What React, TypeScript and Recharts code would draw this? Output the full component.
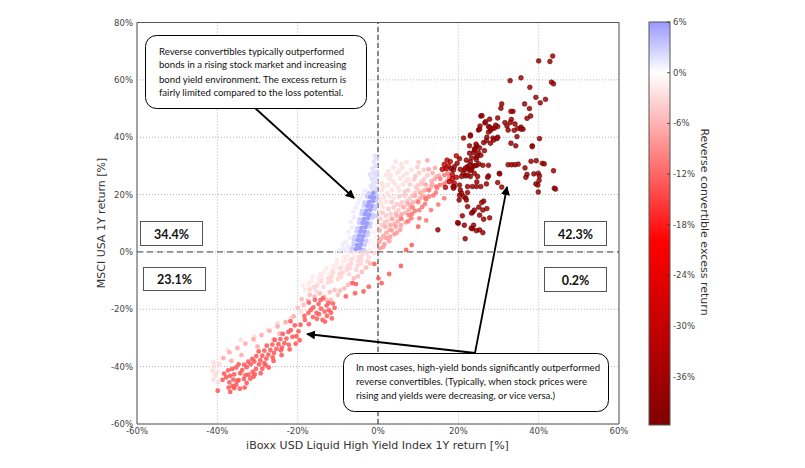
import React from 'react';
import { ScatterChart, Scatter, XAxis, YAxis, CartesianGrid, ReferenceLine, ReferenceArea } from 'recharts';

// ---------- axes / ticks ----------
const xTicks = [-60, -40, -20, 0, 20, 40, 60];
const yTicks = [-60, -40, -20, 0, 20, 40, 60, 80];
const cbTicks = [6, 0, -6, -12, -18, -24, -30, -36];
const CB_MAX = 6;
const CB_MIN = -41.7;

// ---------- data clusters: flat [x, y, x, y ...] in %, each with its excess return ----------
const tailPaleA = [-7.2,0.3, -6.1,-0.2, -5.2,0.4, -8.4,-1.8, -7.5,-1.1, -6,-1.9, -10.2,-2.7, -8.7,-3.3, -7.8,-2.6, -11.1,-4.8, -10.3,-4.1, -8.8,-4.9, -12.9,-5.7, -11.4,-6.3, -10.6,-5.6, -14.4,-7.8, -13.6,-7.1, -12.1,-7.9, -16.3,-8.7, -14.8,-9.3, -13.9,-8.6, -17.3,-10.8, -16.5,-10.1, -14.9,-10.9, -18.7,-11.7, -17.2,-12.2, -18.2,-13.3];
const tailPaleAEx = -1.8;
const tailPaleB = [-4.2,0.3, -2.8,-0.4, -2.1,0.4, -0.9,-0.3, -4.7,-1.8, -3.9,-1.1, -2.3,-1.9, -6.6,-2.7, -5,-3.2, -4.2,-2.7, -2.7,-3.3, -7.5,-4.8, -6.7,-4.1, -5.1,-4.9, -4.3,-4.1, -9.4,-5.7, -7.8,-6.2, -7,-5.7, -5.4,-6.3, -11.2,-7.2, -9.6,-7.7, -8.8,-7.2, -7.2,-7.8, -12.4,-9.3, -11.6,-8.6, -10,-9.4, -9.2,-8.6, -14.1,-10.2, -12.5,-10.7, -11.7,-10.3, -16,-12.3, -15.2,-11.8, -13.6,-12.2, -17,-13.2, -15.4,-13.7];
const tailPaleBEx = -3.5;
const nearZero = [-2,1, -1,2, -1.5,4, -0.5,5, -1,7, -2,6, -0.4,9, -2.2,3];
const nearZeroEx = -1;
const bluePale = [-8.5,1, -7.5,2, -8,3.5, -7,5, -7.3,7, -6.5,8.5, -6.8,10.5, -6,12, -6.2,14, -5.5,15.5, -5,17, -4.5,18.5, -9.5,0.5, -8.8,2.5, -7.6,0.4, -3.8,20, -3.2,21.5];
const bluePaleEx = 1.2;
const blueEdge = [-6.5,1.2, -3.5,0.6, -6.1,2.7, -3.3,2.4, -6,4.2, -2.9,3.9, -5.8,5.3, -2.7,5.9, -5.3,7.2, -2.5,6.9, -5.1,8.3, -2,8.9, -4.7,10.2, -1.9,10, -4.6,11.3, -1.4,11.9, -4.1,13.2, -1.3,13, -0.5,12.5, -4,14.3, -0.8,14.9, -3.5,16.2, -0.6,16, -3.3,17.3, -0.4,17.9, -2.7,19.2, -0.3,19.3, -2.3,20.4, -0.5,21];
const blueEdgeEx = 3;
const blueCore = [-5.5,1, -4.5,1.3, -5.2,2.4, -4.2,2.8, -5,4.1, -4,4.1, -4.7,5.6, -3.7,5.5, -4.4,7.1, -3.4,7.1, -4.1,8.4, -3.1,8.7, -3.8,10.1, -2.8,10, -3.5,11.4, -2.5,11.7, -3.2,13.1, -2.2,13, -2.9,14.4, -1.9,14.7, -2.6,16.1, -1.6,16, -2.2,17.4, -1.3,17.7, -1.9,19.1, -1,19, -1.2,20.5];
const blueCoreEx = 6;
const blueTop = [-1.5,22, -0.7,22.5, -1.2,24, -0.4,24.5, -1.6,25.5, -0.8,26, -1.1,27.5, -0.3,28, -1.4,29, -0.6,30, -1,31.5, -0.3,32.5, -1.8,23, -0.2,26.8, -2,27, -0.8,33.5];
const blueTopEx = 2;
const pinkPale = [1.2,15.6, 2.1,17.4, 0.7,16.9, 3.9,18.8, 2.8,19.5, 1.5,19, 5.3,21.3, 3.5,21.6, 2.3,20.5, 0.9,21.4, 6.2,23.5, 5,22.6, 4.2,23.7, 2.4,23.3, 1.3,22.7, 7.6,25.4, 6.9,24.7, 5.5,25.6, 3.7,24.6, 2.9,25.5, 7.2,27.4, 6.3,26.6, 4.8,27.5, 3.2,26.7, 8.3,28.6, 6.1,29.4, 5.2,28.3, 3.8,29.5, 7.1,31.2, 5.8,30.6, 4.4,31.5, 0.5,13.9, 0.6,18.2, 1,23.9, 2,26.9, 2.6,28.2];
const pinkPaleEx = -2.5;
const pinkLight = [0.9,9.4, 2.3,10.7, 0.6,11.6, 3.2,13.3, 2,12.7, 1.1,13.6, 5.1,14.6, 3.9,15.5, 2.6,15, 6,17.3, 4.7,16.7, 3.4,17.4, 7.9,18.7, 6.6,19.6, 5.3,19.3, 9.2,20.6, 7.5,21.5, 6.7,21, 10.1,23.4, 9.4,22.6, 8,23.5, 11.5,25.4, 10.8,24.6, 9,25.3, 12.3,26.7, 10.2,27.5, 9.3,26.4, 11.4,28.6, 9.8,29.6, 10.1,31.3, 1.7,10.3, 3.3,11.8, 4.5,13.7, 5.5,16.3, 7.2,17.7, 8.6,19.6, 9.9,21.8, 11,23.6];
const pinkLightEx = -4.5;
const pinkMid = [0.8,4.6, 2.1,6.7, 0.4,7.5, 3.1,9.3, 1.8,8.8, 4.9,10.7, 3.6,11.4, 5.9,13.2, 4.6,12.7, 7.7,14.7, 6.4,15.6, 8.7,17.3, 7.4,16.8, 10.5,18.7, 9.2,19.6, 11.4,21.4, 10.5,20.6, 13.2,22.7, 11.9,23.5, 14.1,25.4, 13.3,24.7, 15.2,26.6, 13.6,27.5, 14.2,29.3, 12.6,28.8, 12.3,31.9, 1.4,5.6, 2.9,7.7, 4.2,9.7, 5.6,12.3, 6.9,13.7, 8,16.2, 9.8,17.7, 11.1,19.6, 12.1,21.7, 13.5,23.6, 14.6,26.2];
const pinkMidEx = -7;
const redBandLow = [0.5,1.3, 1.6,2.7, 0.3,3.5, 3,5.3, 2.1,4.8, 4.7,6.7, 3.4,7.5, 5.7,9.3, 4.4,8.8, 1.3,1.7, 2.8,3.8, 4.1,6.2, 5.5,7.7, 6.9,10.3];
const redBandLowEx = -8;
const redBandHigh = [7.5,10.7, 5.8,11.5, 8.5,13.3, 7.7,12.8, 10.3,14.6, 8.6,15.5, 11.7,16.7, 10,17.4, 12.7,19.3, 11.8,18.8, 14.4,20.7, 12.7,21.5, 15.4,23.3, 14.5,22.8, 17.2,24.6, 15.5,25.5, 17.4,27.3, 16.5,26.8, 16.6,29.3, 8.3,11.7, 9.2,14.3, 11,15.7, 12,18.3, 13.8,19.7, 14.7,22.3, 16.5,23.7, 17.7,25.8, 13.2,14.6, 10.3,11.7, 16.5,18.7, 15,16.5, 12,11];
const redBandHighEx = -11;
const tailPink = [-13.4,-15.6, -11.7,-16.7, -10,-15, -8.4,-12.7, -6.7,-10.9, -12,-14, -9.5,-13.5, -7.5,-11.5, -14.5,-14.5, -5,-8.5, -4,-7, -3,-5.5, -6,-9.2, -10.8,-13.2, -12.8,-16.8, -15.8,-15.5, -17,-15, -2,-4, -19,-16.5, -18.5,-18.5, -20,-19.5, -17.5,-17];
const tailPinkEx = -5.5;
const tailFar = [-41,-38.5, -40.8,-40, -41.2,-41.5, -40.5,-43, -41,-44.5, -39.8,-45.5, -39.5,-39, -40,-42, -37.4,-34.2, -34.1,-30.7, -30.8,-29.5, -27.5,-27.2, -25,-24.9, -21.7,-23.1, -19.2,-20.8];
const tailFarEx = -3;
const tailEdge = [-21,-22.5, -23,-24.5, -25,-26, -27,-27.5, -29,-29, -31,-30.5, -33,-32, -35,-33.5, -37,-35, -38.5,-37, -26,-30.5, -24.5,-28.5, -30,-33, -34,-36, -36.5,-38];
const tailEdgeEx = -7;
const redCluster = [-17.2,-17.7, -16.1,-19.3, -14.8,-18.2, -14.2,-19.8, -12.8,-18.7, -12.2,-20.3, -16.7,-20.2, -15.3,-21.3, -14.7,-21.7, -13.3,-20.8, -12.7,-22.3, -11.5,-23.2, -15.2,-23.3, -13.8,-23.7, -13.2,-24.3, -16.2,-22.7, -17.3,-21.2, -14.3,-16.8, -13.7,-16.2, -12.3,-17.8, -11.7,-21.2, -15.7,-16.7, -18.3,-22.3, -18.2,-23.7, -17.2,-25.2, -10.8,-19.5, -11.2,-18];
const redClusterEx = -13;
const tailRed = [-19.3,-25.4, -19.8,-27.7, -19.5,-30.8, -20.7,-25.6, -20.3,-29.4, -21.7,-27.3, -21.3,-29.6, -21.8,-24.2, -22.3,-27.9, -22.8,-30.2, -22.2,-32.4, -23.7,-28.6, -23.3,-31.8, -23.9,-33.4, -24.3,-30.4, -24.8,-32.2, -24.2,-34.3, -25.7,-30.7, -25.3,-33.8, -25.9,-35.2, -26.3,-32.3, -26.8,-34.2, -26.2,-36.8, -27.7,-32.7, -27.3,-35.8, -27.8,-37.2, -27.2,-40.3, -28.3,-34.4, -28.8,-36.2, -28.3,-38.8, -28.8,-40.7, -29.7,-34.7, -29.3,-37.8, -29.6,-39.2, -29.2,-42.3, -30.3,-36.3, -30.8,-38.2, -30.4,-40.8, -30.7,-42.7, -31.3,-37.3, -31.7,-39.2, -31.2,-41.8, -31.8,-44.2, -32.3,-38.3, -32.7,-40.2, -32.2,-42.8, -32.7,-45.7, -33.3,-39.3, -33.8,-41.2, -33.4,-44.3, -33.2,-47.3, -34.7,-39.2, -34.3,-42.3, -34.7,-44.7, -34.4,-47.7, -35.3,-40.3, -35.8,-42.7, -35.3,-46.3, -35.8,-47.5, -36.3,-40.8, -36.8,-43.2, -36.2,-46.8, -36.8,-48.8, -37.3,-41.3, -37.8,-43.7, -37.2,-47.3, -38.3,-42.4, -38.7,-44.6, -39.9,-48.4, -28,-39.5, -31,-43.5, -33,-43, -35,-45, -26,-38, -24,-36, -22,-34, -20.5,-32, -37,-45.5, -36,-44.5];
const tailRedEx = -13.5;
const redScatter = [-2.3,-12.1, -3.6,-13.8, -5.7,-14.4, -6.3,-10.9, -5.5,-11.2, -0.9,-4.2, 0.1,-9.2, 0.9,-10.9, 2.8,-7.7, 5.7,-4.9, 7,0.7, 8.4,2.4, 10,8.8, -8,-15.5];
const redScatterEx = -13;
const transition = [17.5,30, 18,31.5, 17,29, 18.5,27, 19.5,26, 17.8,24.5, 18.5,25.5, 16.5,30.5, 17.2,32, 19,24, 16,28.8, 18.8,22.2, 19.5,33.5, 16.8,22.5];
const transitionEx = -26;
const darkRed = [43.5,68.3, 42.8,66.4, 40,66.6, 43.2,59.2, 43.7,58.6, 32.9,59.7, 35.6,60.7, 37.8,57.4, 39.3,53.9, 41.7,53.2, 40.4,52, 30.8,51.6, 30.6,50.1, 36.5,51.6, 37.7,50, 33.6,49, 38,47.4, 37.1,46.6, 33.2,46.2, 29.8,46.7, 27.8,46.3, 25.6,47.4, 26.6,45, 25.4,43.9, 25,42.5, 23,40.8, 21.3,39.7, 27.5,43.7, 28,42.3, 27.5,41.8, 29,43.2, 29.8,43.7, 31.6,45.1, 32.1,43.9, 34.1,44.6, 34.8,43.1, 33.9,42.4, 32.4,42.5, 35.6,43.5, 36.1,42.8, 27.1,40, 28.6,39.7, 28,37.9, 26.3,38.1, 29.8,40, 34.6,40.2, 40.2,39.5, 24.6,37, 25.3,36.3, 24.1,36, 22.8,37, 34.3,37, 38.4,37, 25,34.6, 25.6,33.7, 24.5,33, 23.8,34.6, 23.3,32.8, 22,32, 23,31.4, 23.8,30, 23.3,28.8, 22.3,29.7, 21.5,28.6, 20.3,32.5, 19.7,30.9, 19,29.7, 18.2,29, 18.8,28.6, 20.5,28.8, 21.2,27.4, 21.8,26.5, 20.8,26.3, 22.7,28.6, 24.6,30.2, 26.1,30.2, 27.5,30.2, 23,26.3, 24.6,24.4, 27.5,26.5, 27,23.7, 29.8,24.2, 30.8,22.6, 30.2,27.4, 32.4,30.4, 33.3,30.4, 34.1,30.4, 34.9,30.6, 36.6,29.3, 37.1,27, 36.8,26, 38.1,31.6, 39.4,31.8, 40.9,30.9, 41.4,30.7, 38.8,27.2, 39.9,27.4, 40.2,26.5, 40.1,24.9, 39.3,23.7, 39.8,23.3, 39.9,20.9, 43.7,28.3, 43.9,22.2, 44.2,21.9, 19,22.8, 20.3,23.3, 20.5,21.6, 20.3,19.8, 20.2,18.1, 22.3,20.7, 21.8,18.8, 24.5,22.8, 26.3,17.7, 25.1,15.6, 27.1,15.1, 23.6,13.9, 26.3,11.4, 27.8,11.9, 20,10, 21.5,9.3, 23.5,8.1, 24.5,7.4, 14.9,7.7, 21.7,4.6, 19.8,10.2, 24,14.6, 25.9,47.5, 26.8,45.4, 25.3,42.8, 27.8,43.5, 28.5,43, 29.3,44.2, 29.6,39.5, 28.8,39, 27,38.8, 26.5,35.3, 24,35.6, 22.8,34.4, 24.4,37.6, 24.8,33.5, 24.5,32.1, 24,30, 25.1,30.7, 22.8,30.2, 21.8,29.3, 23.1,28.4, 24,27.4, 22.3,26.8, 24.8,26.3, 25.6,22.8, 23.5,22.8, 22.3,22.8, 20.8,20.5, 21.3,19.3, 27.3,26, 30.3,27.2, 33.1,49, 32.9,45.1, 35.6,42.8, 33.1,37.9, 38.4,36.7, 23,40.4, 18.7,22.8, 22,18.1, 22.3,15.8, 23.3,13.5, 25.8,17.2, 26.1,14.6, 25.3,12.8, 21,12.6, 23.8,9.3, 23.2,8.3, 25.3,7.7, 26.1,6.7];
const darkRedEx = -35;

// ---------- annotation texts ----------
const boxTextA = [
  'Reverse convertibles typically outperformed',
  'bonds in a rising stock market and increasing',
  'bond yield environment. The excess return is',
  'fairly limited compared to the loss potential.',
];
const boxTextB = [
  'In most cases, high-yield bonds significantly outperformed',
  'reverse convertibles. (Typically, when stock prices were',
  'rising and yields were decreasing, or vice versa.)',
];
const quadrantLabels = ['34.4%', '42.3%', '23.1%', '0.2%'];

function colorFor(v: number): string {
  if (v >= 0) {
    const t = Math.min(v / 15, 1);
    const c = Math.round(255 * (1 - t));
    return `rgb(${c},${c},255)`;
  }
  if (v > -20) {
    const t = -v / 20;
    const c = Math.round(255 * (1 - t));
    return `rgb(255,${c},${c})`;
  }
  const t = Math.min((-v - 20) / 21.7, 1);
  return `rgb(${Math.round(255 - 127 * t)},0,0)`;
}

function toPoints(flat: number[], ex: number) {
  const out: { x: number; y: number; ex: number }[] = [];
  for (let i = 0; i + 1 < flat.length; i += 2) out.push({ x: flat[i], y: flat[i + 1], ex });
  return out;
}

const groups = [
  toPoints(tailPaleA, tailPaleAEx),
  toPoints(tailPaleB, tailPaleBEx),
  toPoints(nearZero, nearZeroEx),
  toPoints(bluePale, bluePaleEx),
  toPoints(blueEdge, blueEdgeEx),
  toPoints(blueCore, blueCoreEx),
  toPoints(blueTop, blueTopEx),
  toPoints(pinkPale, pinkPaleEx),
  toPoints(pinkLight, pinkLightEx),
  toPoints(pinkMid, pinkMidEx),
  toPoints(redBandLow, redBandLowEx),
  toPoints(redBandHigh, redBandHighEx),
  toPoints(tailPink, tailPinkEx),
  toPoints(tailFar, tailFarEx),
  toPoints(tailEdge, tailEdgeEx),
  toPoints(redCluster, redClusterEx),
  toPoints(tailRed, tailRedEx),
  toPoints(redScatter, redScatterEx),
  toPoints(transition, transitionEx),
  toPoints(darkRed, darkRedEx),
];

const Dot = (p: any) => {
  if (p.cx == null || p.cy == null) return <g />;
  const ex = p.payload?.ex ?? 0;
  return (
    <circle
      cx={p.cx}
      cy={p.cy}
      r={2.4}
      fill={colorFor(ex)}
      fillOpacity={ex > 2 ? 0.95 : 0.85}
      stroke={ex < -25 ? '#4a0000' : 'none'}
      strokeWidth={0.5}
    />
  );
};

const W = 805;
const H = 468;
const PLOT_L = 137;
const PLOT_R = 619;
const PLOT_T = 22.5;
const PLOT_B = 424;

const CB_X = 649;
const CB_W = 21;
const CB_T = 22;
const CB_B = 425;
const cbY = (v: number) => CB_T + ((CB_MAX - v) / (CB_MAX - CB_MIN)) * (CB_B - CB_T);

const tickFont = { fontSize: 8.5, fill: '#444', fontFamily: 'DejaVu Sans' };

export default function App() {
  const quadBoxes = [
    { x: 140.5, y: 221.5, w: 62, h: 24, base: 239 },
    { x: 544.5, y: 221.5, w: 62, h: 24, base: 239 },
    { x: 143.5, y: 267.5, w: 62, h: 23, base: 284 },
    { x: 544.5, y: 267.5, w: 62, h: 24, base: 285 },
  ];
  return (
    <div style={{ position: 'absolute', left: 0, top: 0, width: W, height: H, background: '#fff' }}>
      <ScatterChart
        width={W}
        height={H}
        margin={{ top: PLOT_T, right: W - PLOT_R, bottom: H - PLOT_B - 20, left: PLOT_L - 40 }}
      >
        <CartesianGrid stroke="#b5b5b5" strokeDasharray="1 2" />
        <XAxis
          type="number"
          dataKey="x"
          domain={[-60, 60]}
          ticks={xTicks}
          tickFormatter={(v: number) => `${v}%`}
          axisLine={false}
          tickLine={false}
          tickSize={4}
          tickMargin={0}
          height={20}
          tick={tickFont}
          allowDataOverflow
          interval={0}
        />
        <YAxis
          type="number"
          dataKey="y"
          domain={[-60, 80]}
          ticks={yTicks}
          tickFormatter={(v: number) => `${v}%`}
          axisLine={false}
          tickLine={false}
          tickSize={4}
          tickMargin={0}
          width={40}
          tick={tickFont}
          allowDataOverflow
          interval={0}
        />
        {groups.map((g, i) => (
          <Scatter key={i} data={g} shape={Dot} isAnimationActive={false} />
        ))}
        <ReferenceLine x={0} stroke="#222" strokeDasharray="5 3" strokeWidth={1} />
        <ReferenceLine y={0} stroke="#444" strokeDasharray="6 4" strokeWidth={1} />
        <ReferenceArea x1={-60} x2={60} y1={-60} y2={80} fill="none" fillOpacity={0} stroke="#555" strokeWidth={1} />
      </ScatterChart>

      <svg
        width={W}
        height={H}
        style={{ position: 'absolute', left: 0, top: 0, pointerEvents: 'none' }}
      >
        <defs>
          <linearGradient id="cbGrad" x1="0" y1="0" x2="0" y2="1">
            <stop offset={0} stopColor={colorFor(CB_MAX)} />
            <stop offset={(CB_MAX - 0) / (CB_MAX - CB_MIN)} stopColor="#ffffff" />
            <stop offset={(CB_MAX + 20) / (CB_MAX - CB_MIN)} stopColor="#ff0000" />
            <stop offset={1} stopColor={colorFor(CB_MIN)} />
          </linearGradient>
          <marker id="arrowHead" viewBox="0 0 10 10" refX="9" refY="5" markerWidth="5" markerHeight="5" orient="auto">
            <path d="M0,0 L10,5 L0,10 z" fill="#000" />
          </marker>
        </defs>

        {/* axis labels */}
        <text x={377.5} y={448.5} textAnchor="middle" fontFamily="DejaVu Sans" fontSize={11} fill="#333">
          iBoxx USD Liquid High Yield Index 1Y return [%]
        </text>
        <text
          x={0}
          y={0}
          transform={`translate(105,223) rotate(-90)`}
          textAnchor="middle"
          fontFamily="DejaVu Sans"
          fontSize={11}
          fill="#333"
        >
          MSCI USA 1Y return [%]
        </text>

        {/* colour bar */}
        <rect x={CB_X} y={CB_T} width={CB_W} height={CB_B - CB_T} fill="url(#cbGrad)" stroke="#555" strokeWidth={1} />
        {cbTicks.map((t) => (
          <g key={t}>
            <line x1={CB_X + CB_W - 3} x2={CB_X + CB_W} y1={cbY(t)} y2={cbY(t)} stroke="#333" strokeWidth={0.8} />
            <text x={CB_X + CB_W + 3} y={cbY(t) + 3} fontFamily="DejaVu Sans" fontSize={8.5} fill="#444">
              {`${t}%`}
            </text>
          </g>
        ))}
        <text
          x={0}
          y={0}
          transform={`translate(701,222) rotate(90)`}
          textAnchor="middle"
          fontFamily="DejaVu Sans"
          fontSize={11}
          fill="#333"
        >
          Reverse convertible excess return
        </text>

        {/* quadrant share boxes */}
        {quadBoxes.map((b, i) => (
          <g key={i}>
            <rect x={b.x} y={b.y} width={b.w} height={b.h} fill="#fff" stroke="#555" strokeWidth={1} />
            <text x={b.x + b.w / 2} y={b.base} textAnchor="middle" fontFamily="Lato" fontWeight="bold" fontSize={12.5} fill="#111">
              {quadrantLabels[i]}
            </text>
          </g>
        ))}

        {/* arrows */}
        <line x1={255} y1={108} x2={354} y2={198} stroke="#000" strokeWidth={1.8} markerEnd="url(#arrowHead)" />
        <line x1={475} y1={353} x2={507} y2={187} stroke="#000" strokeWidth={1.8} markerEnd="url(#arrowHead)" />
        <line x1={475} y1={353} x2={307} y2={334} stroke="#000" strokeWidth={1.8} markerEnd="url(#arrowHead)" />

        {/* callout A */}
        <rect x={145.5} y={35.5} width={221} height={73} rx={11} fill="#fff" stroke="#000" strokeWidth={1} />
        {boxTextA.map((s, i) => (
          <text key={i} x={159} y={[54.5, 68.3, 82.5, 96][i]} fontFamily="Lato" fontSize={9.6} fill="#111">
            {s}
          </text>
        ))}

        {/* callout B */}
        <rect x={343.5} y={353.5} width={265} height={58} rx={11} fill="#fff" stroke="#000" strokeWidth={1} />
        {boxTextB.map((s, i) => (
          <text key={i} x={356} y={[371, 385, 399][i]} fontFamily="Lato" fontSize={9.6} fill="#111">
            {s}
          </text>
        ))}
      </svg>
    </div>
  );
}
